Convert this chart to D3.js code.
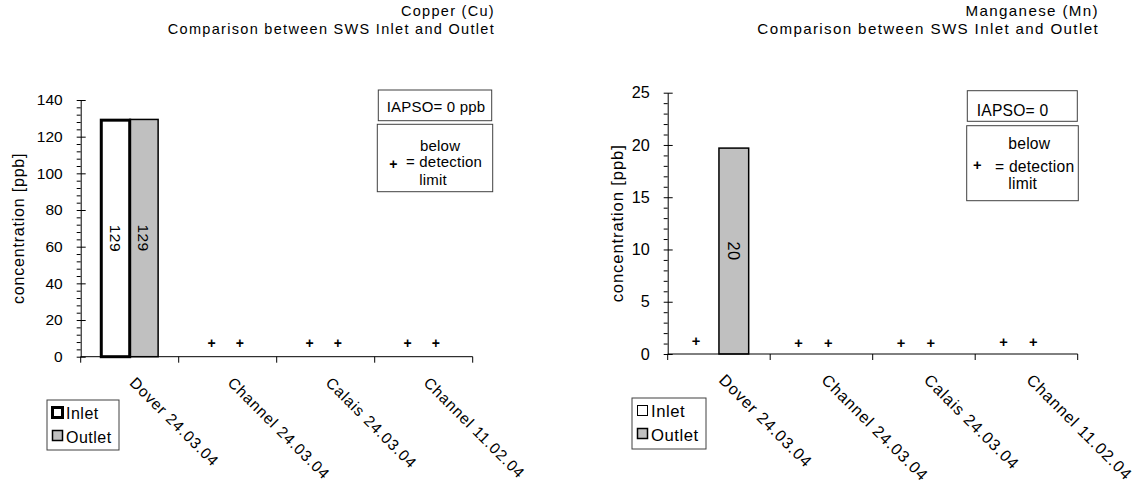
<!DOCTYPE html>
<html><head><meta charset="utf-8">
<script src="https://cdn.jsdelivr.net/npm/d3@7"></script>
<style>
html,body{margin:0;padding:0;background:#fff;}
svg{display:block;}
text{font-family:"Liberation Sans",Arial,Helvetica,sans-serif;fill:#000;}
</style></head><body>
<svg id="chart" width="1138" height="485"></svg>
<script>
// Sampling sites (x categories)
const categories = ["Dover 24.03.04", "Channel 24.03.04", "Calais 24.03.04", "Channel 11.02.04"];
const seriesNames = ["Inlet", "Outlet"];

// Copper concentrations [ppb]; null = below detection limit
const cuInlet  = [129, null, null, null];
const cuOutlet = [129.4, null, null, null];
// Height at which the "+" (below detection limit) marker is shown
const cuInletBdl  = [null, 7, 7, 7];
const cuOutletBdl = [null, 7, 7, 7];
const cuTicks = [0, 20, 40, 60, 80, 100, 120, 140];

// Manganese concentrations [ppb]
const mnInlet  = [null, null, null, null];
const mnOutlet = [19.7, null, null, null];
const mnInletBdl  = [1.2, 1.0, 1.0, 1.15];
const mnOutletBdl = [null, 1.0, 1.0, 1.15];
const mnTicks = [0, 5, 10, 15, 20, 25];

const svg = d3.select("#chart");
const fmt = d3.format(".0f");

const panels = [
  {
    title: ["Copper (Cu)", "Comparison between SWS Inlet and Outlet"],
    inlet: cuInlet, outlet: cuOutlet, inletBdl: cuInletBdl, outletBdl: cuOutletBdl,
    ticks: cuTicks, minorStep: 4, iapso: "IAPSO= 0 ppb",
    x0: 80.7, x1: 472.7, yTop: 100, yBot: 356.7,
    k: 1, inletStroke: 3, markerDx: -2,
    titleX: 495, axisTitleX: 24,
    legend: {x: 47, y: 400, w: 72, h: 50},
    iapsoBox: {x: 378.3, y: 90, w: 113.4, h: 30.7, tx: 386.7, ty: 112},
    bdlBox: {x: 377.3, y: 124.3, w: 115.4, h: 67.4,
             below: [420, 150.7], plus: [393.3, 164.5], eq: [406, 167.3], limit: [419.3, 185]}
  },
  {
    title: ["Manganese (Mn)", "Comparison between SWS Inlet and Outlet"],
    inlet: mnInlet, outlet: mnOutlet, inletBdl: mnInletBdl, outletBdl: mnOutletBdl,
    ticks: mnTicks, minorStep: 1, iapso: "IAPSO= 0",
    x0: 667.7, x1: 1077.7, yTop: 92.7, yBot: 354,
    k: 1.045, inletStroke: 1, markerDx: -8,
    titleX: 1099, axisTitleX: 623,
    legend: {x: 632, y: 398, w: 74, h: 51},
    iapsoBox: {x: 967.3, y: 90.7, w: 110, h: 30.6, tx: 976.7, ty: 115.5},
    bdlBox: {x: 966.7, y: 125.7, w: 111.6, h: 75,
             below: [1008.3, 149], plus: [977.3, 165], eq: [995, 171.7], limit: [1008.3, 189.3]}
  }
];

panels.forEach(p => {
  const g = svg.append("g");
  const k = p.k;
  const styleText = (sel, size, ls) => sel.style("font-size", (size * k) + "px").style("letter-spacing", (ls * k) + "px");

  const x = d3.scaleBand().domain(categories).range([p.x0, p.x1]).paddingInner(0).paddingOuter(0);
  const xs = d3.scaleBand().domain(seriesNames).range([0, x.bandwidth()]).paddingInner(0).paddingOuter(0.724);
  const yMax = p.ticks[p.ticks.length - 1];
  const y = d3.scaleLinear().domain([0, yMax]).range([p.yBot, p.yTop]);

  // Title, right aligned, two lines
  p.title.forEach((t, i) => {
    styleText(g.append("text").attr("x", p.titleX).attr("y", 16 + i * 17.5).attr("text-anchor", "end"), 14.5, 1.3).text(t);
  });

  // Minor y ticks
  const minors = d3.range(0, yMax + 1e-9, p.minorStep).filter(v => !p.ticks.includes(v));
  g.append("g").attr("transform", `translate(${p.x0},0)`)
    .call(d3.axisLeft(y).tickValues(minors).tickSize(4).tickFormat(""))
    .call(a => a.select(".domain").remove())
    .call(a => a.selectAll("line").attr("stroke", "#000"));

  // Major y ticks (crossing the axis) with labels
  const yAxis = g.append("g").attr("transform", `translate(${p.x0},0)`)
    .call(d3.axisLeft(y).tickValues(p.ticks).tickSize(4).tickPadding(14).tickSizeOuter(0));
  yAxis.select(".domain").attr("stroke", "#000");
  yAxis.selectAll(".tick line").attr("x1", 5).attr("x2", -4).attr("stroke", "#000");
  styleText(yAxis.selectAll(".tick text"), 15.5, 0)
    .style("font-family", '"Liberation Sans",Arial,sans-serif').attr("fill", "#000");

  // Y axis title
  styleText(g.append("text")
    .attr("transform", `translate(${p.axisTitleX},${(p.yTop + p.yBot) / 2}) rotate(-90)`)
    .attr("text-anchor", "middle"), 16, 0.8)
    .text("concentration [ppb]");

  // Bars
  const rows = [];
  categories.forEach((c, i) => {
    rows.push({cat: c, s: "Inlet", v: p.inlet[i], bdl: p.inletBdl[i]});
    rows.push({cat: c, s: "Outlet", v: p.outlet[i], bdl: p.outletBdl[i]});
  });
  const barRows = rows.filter(d => d.v != null);

  g.selectAll("rect.bar").data(barRows.slice().sort((a, b) => a.s === "Inlet" ? 1 : -1))
    .join("rect").attr("class", "bar")
    .attr("x", d => x(d.cat) + xs(d.s))
    .attr("width", xs.bandwidth())
    .attr("y", d => y(d.v))
    .attr("height", d => y(0) - y(d.v))
    .attr("fill", d => d.s === "Inlet" ? "#ffffff" : "#c0c0c0")
    .attr("stroke", "#000")
    .attr("stroke-width", d => d.s === "Inlet" ? p.inletStroke : 1.5);

  // Value labels, rotated, centred in the bar
  styleText(g.selectAll("text.val").data(barRows).join("text").attr("class", "val")
    .attr("transform", d => `translate(${x(d.cat) + xs(d.s) + xs.bandwidth() / 2},${(y(d.v) + y(0)) / 2}) rotate(90)`)
    .attr("text-anchor", "middle").attr("dy", "0.35em"), 15.5, 0.5)
    .text(d => fmt(d.v));

  // Below detection limit markers
  g.selectAll("text.bdl").data(rows.filter(d => d.bdl != null)).join("text").attr("class", "bdl")
    .attr("x", d => x(d.cat) + xs(d.s) + xs.bandwidth() / 2 + p.markerDx)
    .attr("y", d => y(d.bdl))
    .attr("dy", "0.33em")
    .attr("text-anchor", "middle")
    .style("font-size", (14 * k) + "px").style("font-weight", "bold")
    .text("+");

  // X axis line and boundary ticks
  g.append("line").attr("x1", p.x0).attr("x2", p.x1).attr("y1", y(0)).attr("y2", y(0)).attr("stroke", "#000");
  const bounds = categories.map(c => x(c)).concat([x(categories[categories.length - 1]) + x.bandwidth()]);
  g.selectAll("line.xt").data(bounds).join("line").attr("class", "xt")
    .attr("x1", d => d).attr("x2", d => d).attr("y1", y(0)).attr("y2", y(0) + 6).attr("stroke", "#000");

  // Rotated category labels
  styleText(g.selectAll("text.cat").data(categories).join("text").attr("class", "cat")
    .attr("transform", c => `translate(${x(c) + x.bandwidth() / 2 - 1},${y(0) + 27}) rotate(45)`), 15.5, 0.9)
    .text(c => c);

  // Legend
  const L = p.legend;
  g.append("rect").attr("x", L.x).attr("y", L.y).attr("width", L.w).attr("height", L.h)
    .attr("fill", "#fff").attr("stroke", "#404040");
  g.append("rect").attr("x", L.x + 5.5).attr("y", L.y + 7.5).attr("width", 10).attr("height", 10)
    .attr("fill", "#fff").attr("stroke", "#000").attr("stroke-width", p.inletStroke);
  styleText(g.append("text").attr("x", L.x + 19).attr("y", L.y + 19), 16, 0.5).text(seriesNames[0]);
  g.append("rect").attr("x", L.x + 5.5).attr("y", L.y + 30.5).attr("width", 10).attr("height", 10)
    .attr("fill", "#c0c0c0").attr("stroke", "#000").attr("stroke-width", 1.5);
  styleText(g.append("text").attr("x", L.x + 19).attr("y", L.y + 43), 16, 0.5).text(seriesNames[1]);

  // Reference value box
  const I = p.iapsoBox;
  g.append("rect").attr("x", I.x).attr("y", I.y).attr("width", I.w).attr("height", I.h)
    .attr("fill", "#fff").attr("stroke", "#404040");
  styleText(g.append("text").attr("x", I.tx).attr("y", I.ty), 15, 0.2).text(p.iapso);

  // Detection limit explanation box
  const B = p.bdlBox;
  g.append("rect").attr("x", B.x).attr("y", B.y).attr("width", B.w).attr("height", B.h)
    .attr("fill", "#fff").attr("stroke", "#404040");
  const bt = (pos, t) => styleText(g.append("text").attr("x", pos[0]).attr("y", pos[1]), 15, 0.2).text(t);
  bt(B.below, "below");
  bt(B.eq, "= detection");
  bt(B.limit, "limit");
  g.append("text").attr("x", B.plus[0]).attr("y", B.plus[1]).attr("dy", "0.33em")
    .attr("text-anchor", "middle").style("font-size", (14 * k) + "px").style("font-weight", "bold").text("+");
});
</script>
</body></html>
